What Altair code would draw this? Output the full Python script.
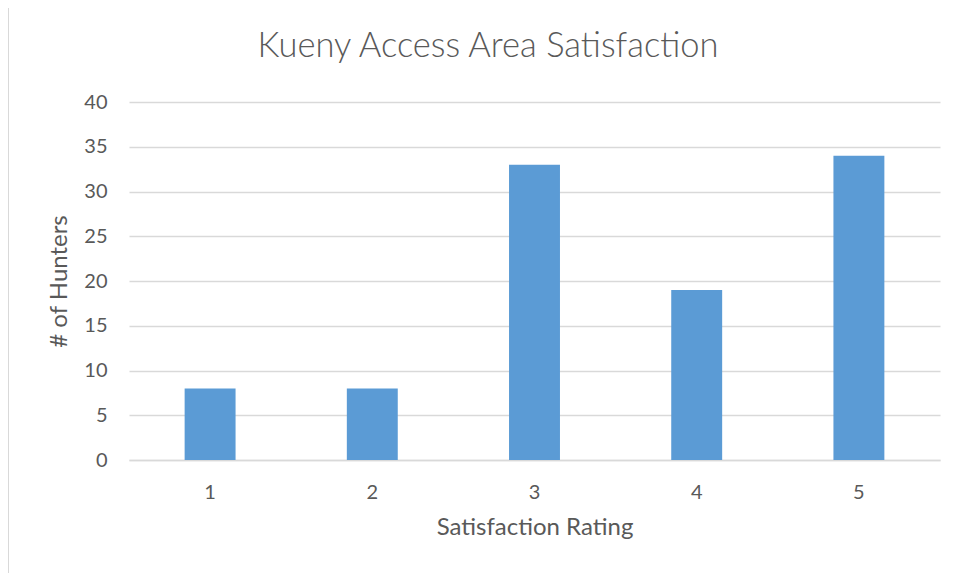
import altair as alt
import pandas as pd

ratings = ["1", "2", "3", "4", "5"]
hunters = [8, 8, 33, 19, 34]
title_text = ["Kueny Access Area Satisfaction"]

df = pd.DataFrame({"rating": ratings, "hunters": hunters})
tdf = pd.DataFrame({"t": title_text})

W, H = 811, 358
TEXT = "#595959"
GRID = "#D9D9D9"
FONT = "Lato"

bars = alt.Chart(df).mark_bar(color="#5B9BD5").encode(
    x=alt.X("rating:N", sort=ratings,
            scale=alt.Scale(paddingInner=0.686, paddingOuter=0.343),
            axis=alt.Axis(title="Satisfaction Rating", labelAngle=0, ticks=False,
                          domainColor=GRID, domainWidth=1.5, labelPadding=22,
                          titlePadding=13)),
    y=alt.Y("hunters:Q", scale=alt.Scale(domain=[0, 40]),
            axis=alt.Axis(title="# of Hunters", values=list(range(0, 45, 5)),
                          ticks=False, domain=False, grid=True, gridColor=GRID,
                          gridWidth=1.5, labelPadding=22, titlePadding=12)),
)

border = alt.Chart(df).mark_rule(color=GRID, strokeWidth=2).encode(
    x=alt.value(-121), y=alt.value(-94), y2=alt.value(H + 113)
)

title = alt.Chart(tdf).mark_text(
    font=FONT, fontSize=34.5, fontWeight=300, color=TEXT,
    align="center", baseline="middle"
).encode(text="t:N", x=alt.value(359), y=alt.value(-55))

chart = (border + bars + title).properties(
    width=W, height=H,
    padding={"left": 121, "top": 94, "right": 10, "bottom": 113},
    autosize=alt.AutoSizeParams(type="none"),
).configure_view(stroke=None).configure_axis(
    labelFont=FONT, titleFont=FONT, labelColor=TEXT, titleColor=TEXT,
    labelFontSize=20, titleFontSize=24, titleFontWeight="normal",
)

chart.save("out.html", embed_options={"renderer": "svg", "actions": False})
